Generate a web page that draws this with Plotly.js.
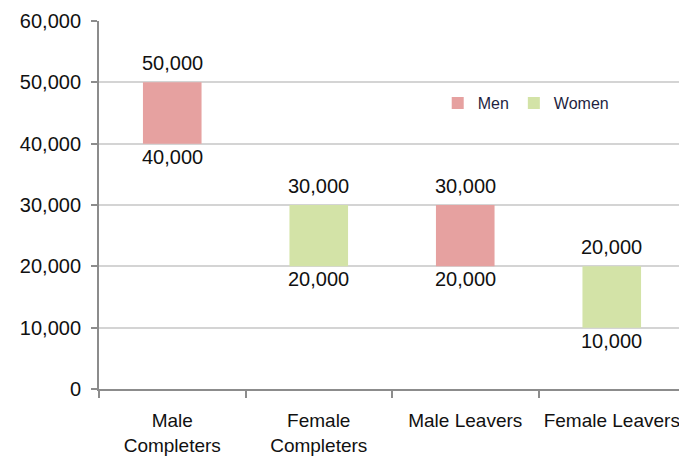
<!DOCTYPE html>
<html>
<head>
<meta charset="utf-8">
<script src="https://cdn.plot.ly/plotly-3.0.1.min.js"></script>
<style>html,body{margin:0;padding:0;overflow:hidden;background:#fff;}</style>
</head>
<body>
<div id="chart" style="width:679px;height:459px;"></div>
<script>
const categories = ["Male<br>Completers", "Female<br>Completers", "Male Leavers", "Female Leavers"];
const menCats = ["Male<br>Completers", "Male Leavers"];
const menBase = [40000, 20000];
const menSpan = [10000, 10000];
const womenCats = ["Female<br>Completers", "Female Leavers"];
const womenBase = [20000, 10000];
const womenSpan = [10000, 10000];
const yTicks = [0, 10000, 20000, 30000, 40000, 50000, 60000];

const menColor = "#e6a1a0";
const womenColor = "#d3e3a7";
const fmt = v => v.toLocaleString("en-US");
const font = "Liberation Sans, Arial, sans-serif";
const textColor = "#111";

const allCats = menCats.concat(womenCats);
const allBase = menBase.concat(womenBase);
const allTop = allBase.map((b, i) => b + menSpan.concat(womenSpan)[i]);

const traces = [
  {type: "bar", name: "Men", x: menCats, y: menSpan, base: menBase, width: 0.4,
   marker: {color: menColor}, hoverinfo: "skip"},
  {type: "bar", name: "Women", x: womenCats, y: womenSpan, base: womenBase, width: 0.4,
   marker: {color: womenColor}, hoverinfo: "skip"}
];

const annotations = [];
allCats.forEach((c, i) => {
  annotations.push({x: c, y: allTop[i], xref: "x", yref: "y", text: fmt(allTop[i]),
    showarrow: false, yanchor: "middle", yshift: 19, font: {family: font, size: 20, color: textColor}});
  annotations.push({x: c, y: allBase[i], xref: "x", yref: "y", text: fmt(allBase[i]),
    showarrow: false, yanchor: "middle", yshift: -13, font: {family: font, size: 20, color: textColor}});
});

const layout = {
  width: 679, height: 459,
  margin: {l: 99, r: 0, t: 21, b: 70},
  paper_bgcolor: "#fff", plot_bgcolor: "#fff",
  font: {family: font, size: 20, color: textColor},
  barmode: "overlay",
  showlegend: true,
  annotations: annotations,
  legend: {orientation: "h", x: 0.584, y: 0.777, xanchor: "left", yanchor: "middle",
           font: {family: font, size: 16, color: "#1f1f3f"}, bgcolor: "rgba(0,0,0,0)",
           traceorder: "normal", itemgap: 0},
  xaxis: {type: "category", categoryorder: "array", categoryarray: categories,
          range: [-0.5, 3.459], showgrid: false, showline: true, linecolor: "#8c8c8c", linewidth: 2,
          ticks: "outside", tickson: "boundaries", ticklen: 7, tickwidth: 2, tickcolor: "#8c8c8c",
          tickfont: {family: font, size: 19, color: textColor}, zeroline: false,
          ticklabelstandoff: 13},
  yaxis: {range: [0, 60000], tickvals: yTicks, ticktext: yTicks.map(fmt),
          showgrid: true, gridcolor: "#d4d4d4", gridwidth: 2,
          showline: true, linecolor: "#8c8c8c", linewidth: 2,
          ticks: "outside", ticklen: 6, tickwidth: 2, tickcolor: "#8c8c8c",
          tickfont: {family: font, size: 20, color: textColor}, zeroline: false, ticklabelstandoff: 6}
};

Plotly.newPlot("chart", traces, layout, {staticPlot: true, displayModeBar: false});
</script>
</body>
</html>
